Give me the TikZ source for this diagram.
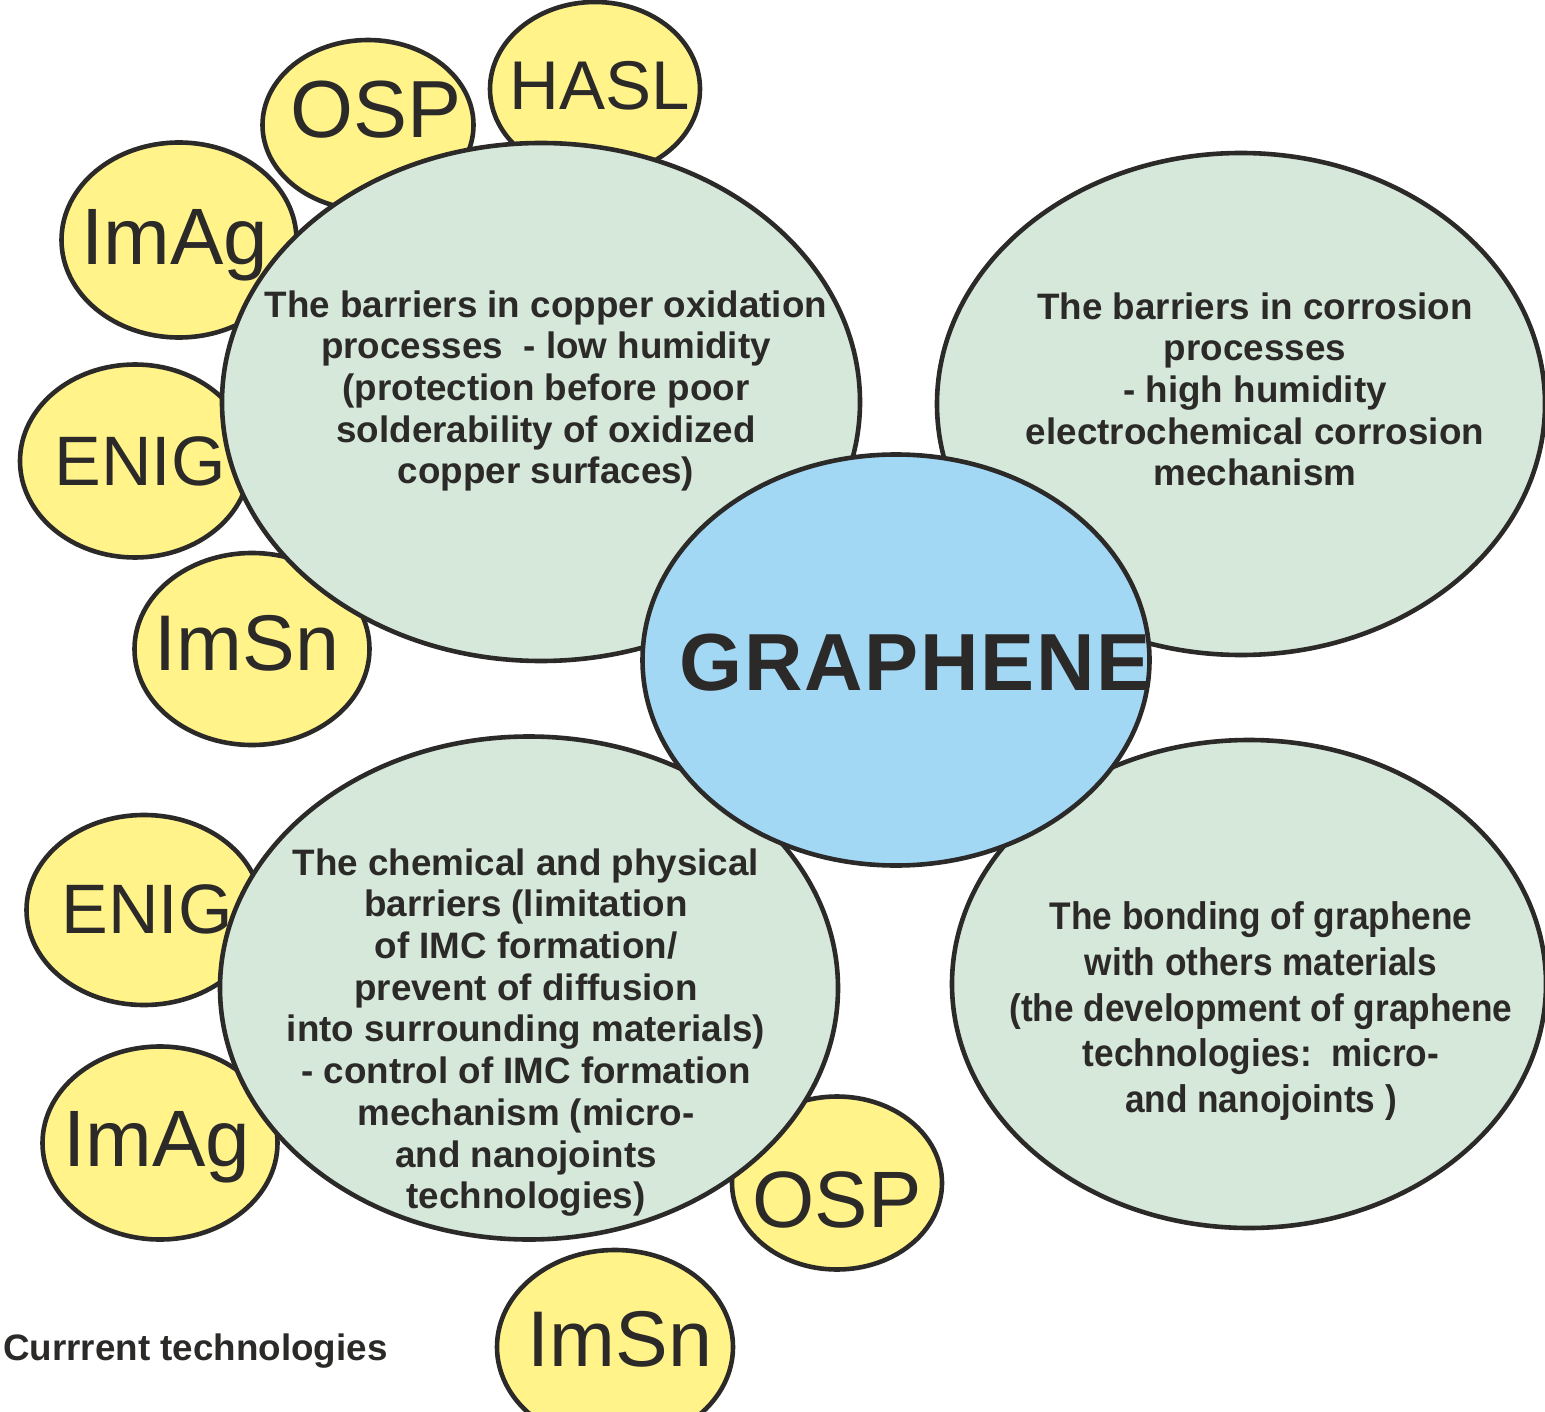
\documentclass[tikz,border=0pt]{standalone}
\usepackage{fontspec}
\setmainfont{Liberation Sans}
\newfontfamily\narrowsans[FakeStretch=0.915]{Liberation Sans}
\newfontfamily\widesans[LetterSpace=2]{Liberation Sans}
\usetikzlibrary{shapes.geometric}

\definecolor{ink}{RGB}{43,42,41}
\definecolor{finishfill}{RGB}{255,243,138}
\definecolor{barrierfill}{RGB}{214,232,218}
\definecolor{corefill}{RGB}{163,216,245}

\tikzset{
  bubble/.style={ellipse, draw=ink, line width=4.6pt, inner sep=0pt, outer sep=0pt},
  finish/.style={bubble, fill=finishfill},
  barrier/.style={bubble, fill=barrierfill},
  core/.style={bubble, fill=corefill},
  finishtext/.style={text=ink, anchor=base, inner sep=0pt},
  barriertext/.style={text=ink, anchor=north, align=center, inner sep=0pt,
    font=\fontsize{36.8}{41.7}\selectfont\bfseries},
}

\begin{document}
\begin{tikzpicture}[x=1pt,y=-1pt]
\useasboundingbox (0,0) rectangle (1545,1412);

% surface finishes (drawn first, partly covered by the barrier bubbles)
\node[finish, minimum width=210, minimum height=174] (hasl)  at (595,89)   {};
\node[finish, minimum width=211, minimum height=170] (ospA)  at (368,125)  {};
\node[finish, minimum width=235, minimum height=195] (imagA) at (179,240)  {};
\node[finish, minimum width=230, minimum height=193] (enigA) at (135,461)  {};
\node[finish, minimum width=235, minimum height=192] (imsnA) at (252,649)  {};
\node[finish, minimum width=235, minimum height=190] (enigB) at (144,910)  {};
\node[finish, minimum width=235, minimum height=193] (imagB) at (160,1143) {};
\node[finish, minimum width=210, minimum height=173] (ospB)  at (837,1183) {};
\node[finish, minimum width=236, minimum height=194] (imsnB) at (615,1347) {};

% barrier bubbles
\node[barrier, minimum width=638, minimum height=518] (oxid)  at (541,402)  {};
\node[barrier, minimum width=608, minimum height=502] (corr)  at (1241,404) {};
\node[barrier, minimum width=618, minimum height=503] (imc)   at (529,988)  {};
\node[barrier, minimum width=594, minimum height=488] (bond)  at (1249,984) {};

% central bubble
\node[core, minimum width=507, minimum height=411] (graphene) at (896,660) {};

% labels of the surface finishes
\node[finishtext, font=\fontsize{69}{80}\selectfont] (haslT)  at (600,110)  {HASL};
\node[finishtext, font=\fontsize{81}{95}\selectfont] (ospAT)  at (376,138)  {OSP};
\node[finishtext, font=\fontsize{80}{95}\selectfont] (imagAT) at (175,265)  {ImAg};
\node[finishtext, font=\fontsize{70}{82}\selectfont] (enigAT) at (140,485)  {ENIG};
\node[finishtext, font=\fontsize{79}{95}\selectfont] (imsnAT) at (247,670)  {ImSn};
\node[finishtext, font=\fontsize{70}{82}\selectfont] (enigBT) at (147,933)  {ENIG};
\node[finishtext, font=\fontsize{80}{95}\selectfont] (imagBT) at (157,1166) {ImAg};
\node[finishtext, font=\fontsize{80}{95}\selectfont] (ospBT)  at (837,1227) {OSP};
\node[finishtext, font=\fontsize{79}{95}\selectfont] (imsnBT) at (620,1366) {ImSn};

% barrier descriptions
\node[barriertext] (oxidT) at (546,287.8) {\strut The barriers in copper oxidation\\
  processes\ \ - low humidity\\
  (protection before poor\\
  solderability of oxidized\\
  copper surfaces)};
\node[barriertext] (corrT) at (1255,289.8) {\strut The barriers in corrosion\\
  processes\\
  - high humidity\\
  electrochemical corrosion\\
  mechanism};
\node[barriertext] (imcT) at (526,845.8) {\strut The chemical and physical\\
  barriers (limitation\\
  of IMC formation/\\
  prevent of diffusion\\
  into surrounding materials)\\
  - control of IMC formation\\
  mechanism (micro-\\
  and nanojoints\\
  technologies)};
\node[barriertext, font=\fontsize{38.5}{45.7}\selectfont\narrowsans\bfseries]
  (bondT) at (1261,897.7) {\strut The bonding of graphene\\
  with others materials\\
  (the development of graphene\\
  technologies:\ \ micro-\\
  and nanojoints )};

% central label
\node[text=ink, anchor=base, inner sep=0pt, font=\fontsize{81}{96}\selectfont\widesans\bfseries]
  (grapheneT) at (915,690) {GRAPHENE};

% caption
\node[text=ink, anchor=base west, inner sep=0pt, font=\fontsize{36.8}{42}\selectfont\bfseries]
  (caption) at (3,1360) {Currrent technologies};
\end{tikzpicture}
\end{document}
